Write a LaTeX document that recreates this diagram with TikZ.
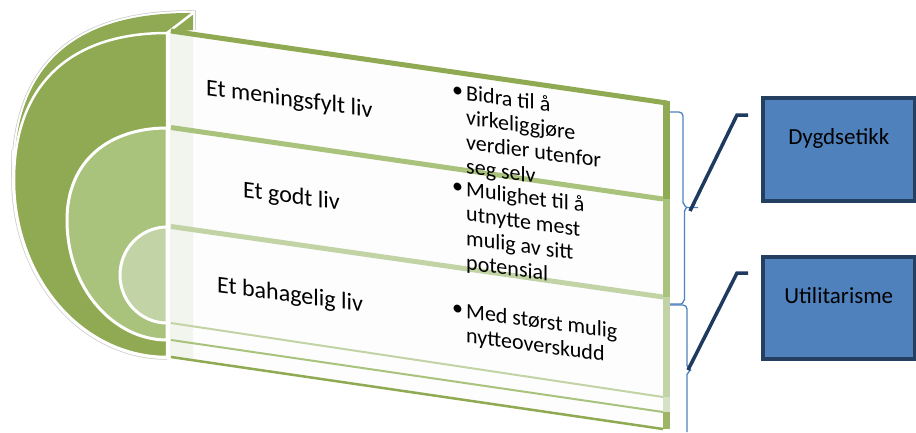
\documentclass[tikz,border=0pt]{standalone}
\usepackage{fontspec}
\setmainfont{Carlito}
\definecolor{gdark}{HTML}{8FAA52}
\definecolor{gmed}{HTML}{A9C27C}
\definecolor{glight}{HTML}{C2D4A5}
\definecolor{gpale}{HTML}{D6E2C4}
\definecolor{golive}{HTML}{9DB565}
\definecolor{bfill}{HTML}{4F81BD}
\definecolor{bline}{HTML}{243F60}
\definecolor{navy}{HTML}{1F3A5F}
\definecolor{brc}{HTML}{4F81BD}
\definecolor{paper}{HTML}{FDFDFD}
\definecolor{stripc}{HTML}{F2F4EE}
\newcommand{\bulmark}{\makebox[14pt][l]{\raisebox{1.5pt}{•}}}
\newcommand{\bulindent}{\hspace*{14pt}}
\begin{document}
\begin{tikzpicture}[x=1pt,y=-1pt,
  lbl/.style={font=\fontsize{24}{29}\selectfont, yslant=-0.135, anchor=base west, inner sep=0pt},
  bul/.style={font=\fontsize{22}{24.5}\selectfont, yslant=-0.135, anchor=north west, inner sep=0pt, align=left},
  box/.style={draw=bline, fill=bfill, line width=3.5pt, minimum width=152pt, minimum height=103pt, anchor=north west, inner sep=0pt, font=\fontsize{23}{28}\selectfont, text height=16pt, text depth=25pt},
  brace/.style={draw=brc, line width=1.3pt, line join=round},
  callout/.style={draw=navy, line width=3.5pt},
  band/.style={line width=5pt},
  thinband/.style={line width=2pt},
  sidebar/.style={line width=7pt},
]
\useasboundingbox (0,0) rectangle (916,432);

% ---- half discs ----
% outline halo (gray then white)
\draw[black!20, line width=5.5pt] (193,30) -- (193,13) .. controls (80,12) and (13,60) .. (14,178);
\draw[black!20, line width=5.5pt] (14,150) -- (14,180) .. controls (14,278) and (82,357) .. (167,357);
\draw[white, line width=4pt] (193,30) -- (193,13) .. controls (80,12) and (13,60) .. (14,178);
\draw[white, line width=4pt] (14,150) -- (14,180) .. controls (14,278) and (82,357) .. (167,357);
% top face (back)
\fill[gdark] (193,13) .. controls (80,12) and (13,60) .. (14,178) -- (167,178) -- (167,33) -- (193,30) -- cycle;
% front face
\fill[gdark] (167,33) .. controls (70,33) and (14,85) .. (14,180) .. controls (14,278) and (82,357) .. (167,357) -- cycle;
\draw[white, line width=2.5pt] (167,33) .. controls (70,33) and (14,85) .. (14,180) .. controls (14,278) and (82,357) .. (167,357) -- cycle;
\draw[white, line width=2.5pt] (167,33) -- (193,13);
% middle and inner
\filldraw[fill=gmed, draw=white, line width=3pt] (167,128) .. controls (110,128) and (67,160) .. (67,220) .. controls (67,290) and (115,340) .. (167,340) -- cycle;
\filldraw[fill=glight, draw=white, line width=3pt] (167,227) arc[start angle=270, end angle=90, x radius=47, y radius=48] -- cycle;

% ---- panel ----
\fill[paper] (170,29) -- (670,101) -- (670,430) -- (170,358) -- cycle;
\fill[stripc] (170,29) -- (193,32) -- (193,361) -- (170,358) -- cycle;
\draw[gdark, band] (171,31) -- (667,103);
\draw[gdark, sidebar] (666.5,101) -- (666.5,199);
\draw[gmed, sidebar] (666.5,199) -- (666.5,297);
\draw[glight, sidebar] (666.5,297) -- (666.5,397);
\draw[gpale, sidebar] (666.5,397) -- (666.5,412);
\draw[golive, sidebar] (666.5,412) -- (666.5,429);
\draw[gmed, band] (171,127.5) -- (663,199);
\draw[glight, band] (171,226.5) -- (663,297);
\draw[glight, thinband] (171,323) -- (663,397);
\draw[gmed, thinband] (171,340) -- (663,412);
\draw[gdark, line width=2.5pt] (171,357) -- (663,429);

% ---- texts ----
\node[lbl] (l1) at (206,95) {Et meningsfylt liv};
\node[lbl] (l2) at (243,197) {Et godt liv};
\node[lbl] (l3) at (217,292) {Et bahagelig liv};
\node[bul] (b1) at (452,81) {\strut\bulmark Bidra til å\\\bulindent virkeliggjøre\\\bulindent verdier utenfor\\\bulindent seg selv};
\node[bul] (b2) at (452,177) {\strut\bulmark Mulighet til å\\\bulindent utnytte mest\\\bulindent mulig av sitt\\\bulindent potensial};
\node[bul] (b3) at (452,299) {\strut\bulmark Med størst mulig\\\bulindent nytteoverskudd};

% ---- braces ----
\draw[brace] (670,112) -- (679,112) to[out=0,in=90] (683,116) -- (683,203) to[out=90,in=180] (687,207.5) -- (698,207.5);
\draw[brace] (687,207.5) to[out=180,in=-90] (684.5,211) -- (684.5,300) to[out=90,in=0] (681,304) -- (670,304);
\draw[brace] (670,305) -- (683,305) to[out=0,in=90] (687,309) -- (687,366) to[out=90,in=180] (691,370);
\draw[brace] (691,370) to[out=180,in=-90] (687,374) -- (687,432);

% ---- boxes ----
\node[box] (dyg) at (761,96) {Dygdsetikk};
\node[box, minimum height=102pt] (uti) at (761,255) {Utilitarisme};

% ---- callouts ----
\coordinate (e1) at (748,115);
\coordinate (k1) at (737,115);
\coordinate (t1) at (690,211);
\coordinate (e2) at (748,273);
\coordinate (k2) at (737,273);
\coordinate (t2) at (688,370);
\draw[callout] (e1) -- (k1) -- (t1);
\draw[callout] (e2) -- (k2) -- (t2);
\end{tikzpicture}
\end{document}
